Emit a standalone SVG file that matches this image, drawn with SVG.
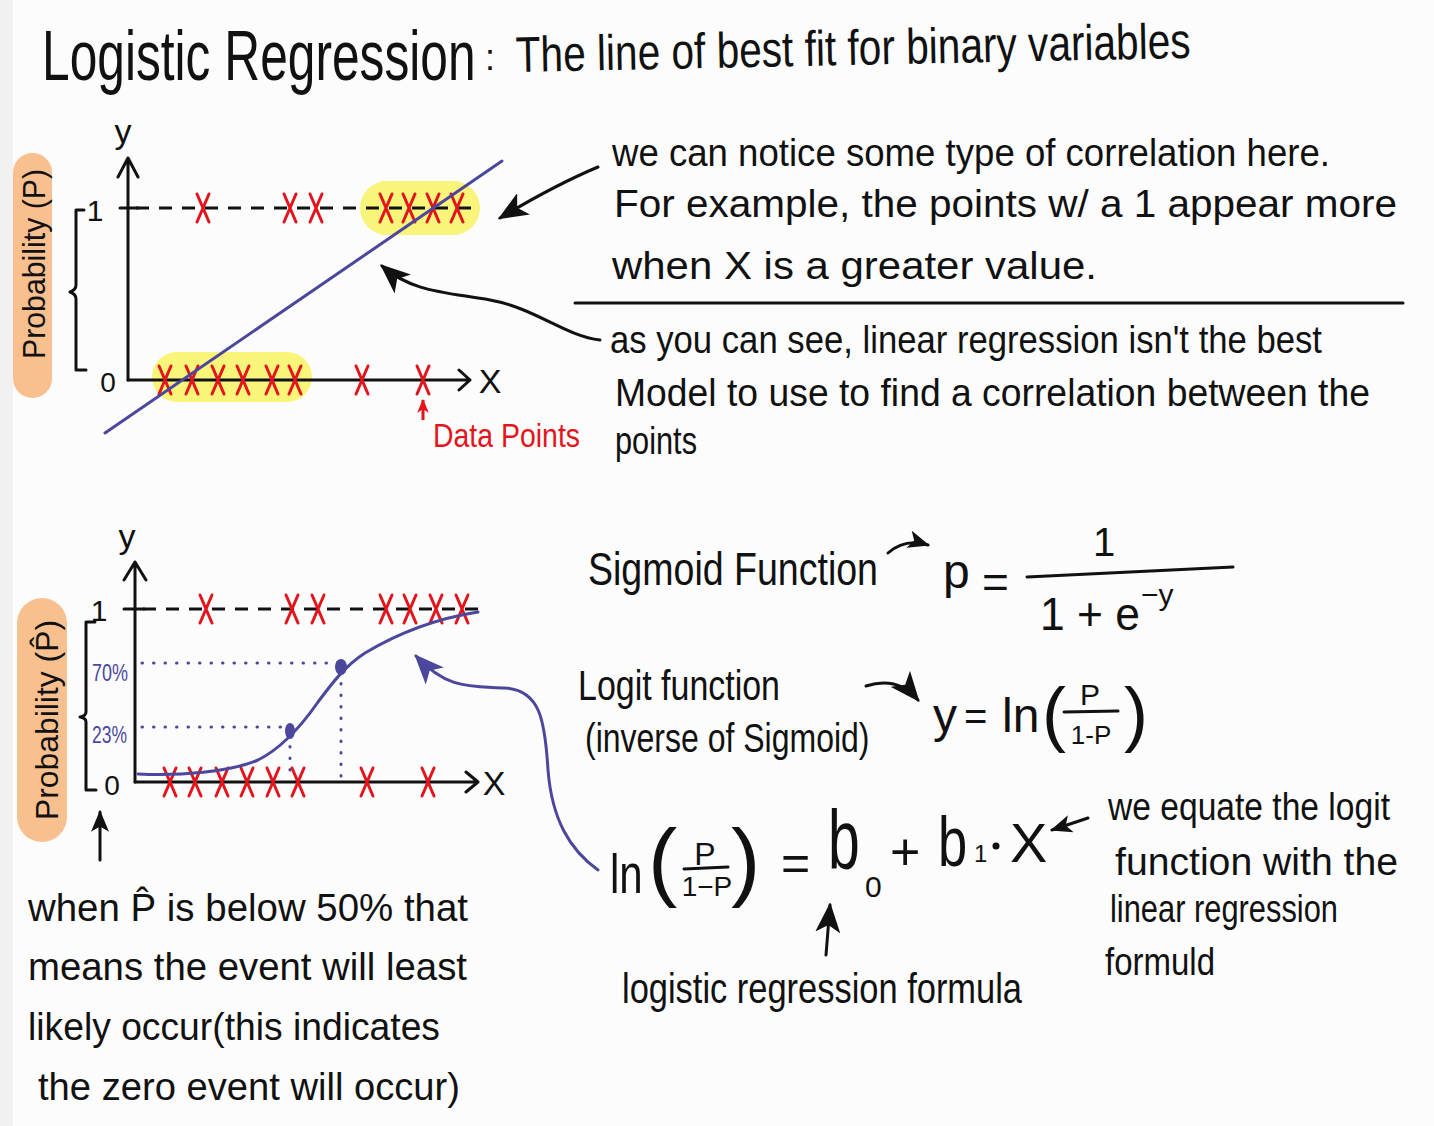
<svg xmlns="http://www.w3.org/2000/svg" width="1434" height="1126" viewBox="0 0 1434 1126">
<defs>
<style>
text{font-family:"Liberation Sans",Arial,sans-serif;fill:#111}
.b{font-size:38px}
.red{fill:#e3141b}
.blue{fill:#4b479c}
.ln{stroke:#111;stroke-width:3;fill:none;stroke-linecap:round;stroke-linejoin:round}
.bl{stroke:#4b479c;stroke-width:3;fill:none;stroke-linecap:round}
.dot{stroke:#4b479c;stroke-width:3;fill:none;stroke-linecap:round;stroke-dasharray:0.5 11}
.dash{stroke:#111;stroke-width:3;fill:none;stroke-dasharray:13 10}
.pill{fill:#f9c08f}
.hl{fill:#f8f57a}
</style>
<symbol id="x" viewBox="-8 -16 16 32" width="16" height="32" overflow="visible">
<path d="M-6,-14 Q0,0 6,14 M6,-14 Q0,0 -6,14" stroke="#e3141b" stroke-width="3" fill="none" stroke-linecap="round"/>
</symbol>
<marker id="hk" viewBox="0 0 12 10" refX="11" refY="5" markerWidth="30" markerHeight="25" markerUnits="userSpaceOnUse" orient="auto">
<path d="M0,0 L12,5 L0,10 L3,5 z" fill="#111"/>
</marker>
<marker id="hks" viewBox="0 0 12 10" refX="11" refY="5" markerWidth="22" markerHeight="18" markerUnits="userSpaceOnUse" orient="auto">
<path d="M0,0 L12,5 L0,10 L3,5 z" fill="#111"/>
</marker>
<marker id="hbl" viewBox="0 0 12 10" refX="11" refY="5" markerWidth="30" markerHeight="25" markerUnits="userSpaceOnUse" orient="auto">
<path d="M0,0 L12,5 L0,10 L3,5 z" fill="#4b479c"/>
</marker>
<marker id="hr" viewBox="0 0 12 10" refX="11" refY="5" markerWidth="14" markerHeight="12" markerUnits="userSpaceOnUse" orient="auto">
<path d="M0,0 L12,5 L0,10 L3,5 z" fill="#e3141b"/>
</marker>
</defs>
<rect width="1434" height="1126" fill="#fcfcfc"/>
<rect width="13" height="1126" fill="#f1f1f1"/>

<g id="title">
<text transform="translate(42,80) scale(0.71,1)" x="0" y="0" font-size="70">Logistic Regression</text>
<text x="485" y="70" font-size="36">:</text>
<text x="516" y="72" font-size="50" textLength="675" lengthAdjust="spacingAndGlyphs" transform="rotate(-1.2 516 72)">The line of best fit for binary variables</text>
</g>

<g id="chart-linear">
<rect class="pill" x="13" y="153" width="39" height="245" rx="19.5"/>
<text transform="translate(45,264) rotate(-90)" font-size="32" text-anchor="middle" textLength="190" lengthAdjust="spacingAndGlyphs">Probability (P)</text>
<path class="ln" d="M84,210 L76,210 L76,285 Q76,290 70,292 Q76,294 76,299 L76,370 L86,370" stroke-width="2.5"/>
<text x="95" y="221" font-size="30" text-anchor="middle">1</text>
<text x="108" y="392" font-size="28" text-anchor="middle">0</text>
<text x="123" y="143" font-size="34" text-anchor="middle">y</text>
<rect class="hl" x="360" y="181" width="120" height="54" rx="27"/>
<rect class="hl" x="152" y="352" width="160" height="50" rx="25"/>
<path class="dash" d="M136,208 L478,208"/>
<path class="ln" d="M120,208 L138,208"/>
<path class="ln" d="M128,380 L128,158 M118,177 L128,158 L138,177"/>
<path class="ln" d="M128,380 L470,380 M459,370 L470,380 L459,390"/>
<text x="490" y="393" font-size="34" text-anchor="middle">X</text>
<use href="#x" x="195" y="192"/><use href="#x" x="282" y="192"/><use href="#x" x="308" y="192"/>
<use href="#x" x="378" y="192"/><use href="#x" x="401" y="192"/><use href="#x" x="425" y="192"/><use href="#x" x="449" y="192"/>
<use href="#x" x="157" y="364"/><use href="#x" x="184" y="364"/><use href="#x" x="210" y="364"/><use href="#x" x="235" y="364"/>
<use href="#x" x="264" y="364"/><use href="#x" x="287" y="364"/><use href="#x" x="354" y="364"/><use href="#x" x="415" y="364"/>
<path class="bl" d="M105,433 L502,161" stroke-width="2.5"/>
<path d="M423,420 L423,400" stroke="#e3141b" stroke-width="3" fill="none" marker-end="url(#hr)"/>
<text class="red" x="433" y="447" font-size="34" textLength="147" lengthAdjust="spacingAndGlyphs">Data Points</text>
</g>

<g id="note-correlation">
<text class="b" x="612" y="166" textLength="718" lengthAdjust="spacingAndGlyphs">we can notice some type of correlation here.</text>
<text class="b" x="614" y="217" textLength="783" lengthAdjust="spacingAndGlyphs">For example, the points w/ a 1 appear more</text>
<text class="b" x="612" y="279" textLength="485" lengthAdjust="spacingAndGlyphs">when X is a greater value.</text>
</g>
<path class="ln" d="M575,303 L1403,303" stroke-width="2.5"/>
<g id="note-linear">
<text class="b" x="610" y="353" textLength="712" lengthAdjust="spacingAndGlyphs">as you can see, linear regression isn't the best</text>
<text class="b" x="615" y="406" textLength="755" lengthAdjust="spacingAndGlyphs">Model to use to find a correlation between the</text>
<text class="b" x="615" y="454" textLength="82" lengthAdjust="spacingAndGlyphs">points</text>
</g>

<g id="chart-sigmoid">
<rect class="pill" x="17" y="598" width="50" height="244" rx="25"/>
<text transform="translate(58,720) rotate(-90)" font-size="32" text-anchor="middle" textLength="200" lengthAdjust="spacingAndGlyphs">Probability (P̂)</text>
<path class="ln" d="M95,622 L86,622 L86,712 Q86,716 80,717 Q86,718 86,722 L86,790 L96,790" stroke-width="2.5"/>
<text x="99" y="621" font-size="30" text-anchor="middle">1</text>
<text class="blue" x="92" y="681" font-size="24" textLength="36" lengthAdjust="spacingAndGlyphs">70%</text>
<text class="blue" x="92" y="743" font-size="24" textLength="35" lengthAdjust="spacingAndGlyphs">23%</text>
<text x="112" y="795" font-size="28" text-anchor="middle">0</text>
<text x="127" y="548" font-size="34" text-anchor="middle">y</text>
<path class="dash" d="M143,609 L480,609"/>
<path class="ln" d="M124,609 L144,609"/>
<path class="ln" d="M135,782 L135,562 M124,580 L135,562 L146,580"/>
<path class="ln" d="M135,782 L478,782 M466,772 L478,782 L466,792"/>
<text x="494" y="795" font-size="34" text-anchor="middle">X</text>
<path class="dot" d="M142,663 L340,663 M142,727 L288,727 M290,735 L290,780 M341,672 L341,780"/>
<use href="#x" x="198" y="593"/><use href="#x" x="284" y="593"/><use href="#x" x="310" y="593"/>
<use href="#x" x="378" y="593"/><use href="#x" x="402" y="593"/><use href="#x" x="428" y="593"/><use href="#x" x="454" y="593"/>
<use href="#x" x="162" y="766"/><use href="#x" x="187" y="766"/><use href="#x" x="214" y="766"/><use href="#x" x="239" y="766"/>
<use href="#x" x="265" y="766"/><use href="#x" x="290" y="766"/><use href="#x" x="359" y="766"/><use href="#x" x="420" y="766"/>
<path class="bl" d="M138,774 C180,776 230,772 258,760 C280,749 300,728 318,702 C333,682 345,666 365,653 C400,632 440,618 478,612"/>
<ellipse cx="290" cy="731" rx="5" ry="8" fill="#4b479c"/>
<ellipse cx="341" cy="667" rx="6" ry="8" fill="#4b479c"/>
</g>

<g id="note-below50">
<text class="b" x="28" y="921" textLength="440" lengthAdjust="spacingAndGlyphs">when P̂ is below 50% that</text>
<text class="b" x="28" y="980" textLength="439" lengthAdjust="spacingAndGlyphs">means the event will least</text>
<text class="b" x="28" y="1040" textLength="412" lengthAdjust="spacingAndGlyphs">likely occur(this indicates</text>
<text class="b" x="38" y="1100" textLength="422" lengthAdjust="spacingAndGlyphs">the zero event will occur)</text>
</g>

<g id="sigmoid">
<text x="588" y="585" font-size="46" textLength="290" lengthAdjust="spacingAndGlyphs">Sigmoid Function</text>
<text x="943" y="588" font-size="48">p</text>
<text x="982" y="598" font-size="46">=</text>
<path class="ln" d="M1027,577 L1233,567"/>
<text x="1104" y="556" font-size="40" text-anchor="middle">1</text>
<text x="1040" y="630" font-size="46" textLength="100" lengthAdjust="spacingAndGlyphs">1 + e</text>
<text x="1141" y="605" font-size="30">−y</text>
</g>

<g id="logit">
<text x="578" y="700" font-size="42" textLength="202" lengthAdjust="spacingAndGlyphs">Logit function</text>
<text transform="translate(585,752) scale(0.8,1)" x="0" y="0" font-size="40">(inverse of Sigmoid)</text>
<text x="933" y="732" font-size="48">y</text>
<text x="964" y="730" font-size="40">=</text>
<text x="1002" y="732" font-size="48">ln</text>
<text x="1042" y="738" font-size="72">(</text>
<text x="1090" y="705" font-size="30" text-anchor="middle">P</text>
<path class="ln" d="M1064,712 L1118,711"/>
<text x="1091" y="744" font-size="26" text-anchor="middle">1-P</text>
<text x="1124" y="738" font-size="72">)</text>
</g>

<g id="logistic-formula">
<text transform="translate(610,893) scale(0.75,1)" x="0" y="0" font-size="56">ln</text>
<text x="648" y="890" font-size="88">(</text>
<text x="705" y="865" font-size="32" text-anchor="middle">P</text>
<path class="ln" d="M684,869 L728,867"/>
<text x="707" y="896" font-size="28" text-anchor="middle">1−P</text>
<text x="731" y="890" font-size="88">)</text>
<text x="781" y="880" font-size="50">=</text>
<text transform="translate(828,869) scale(0.68,1)" x="0" y="0" font-size="84">b</text>
<text x="865" y="897" font-size="30">0</text>
<text x="890" y="870" font-size="52">+</text>
<text transform="translate(938,866) scale(0.75,1)" x="0" y="0" font-size="70">b</text>
<text x="974" y="862" font-size="24">1</text>
<circle cx="996" cy="846" r="3.5" fill="#111"/>
<text x="1010" y="862" font-size="56">X</text>
</g>

<g id="note-equate">
<text class="b" x="1108" y="820" textLength="282" lengthAdjust="spacingAndGlyphs">we equate the logit</text>
<text class="b" x="1115" y="875" textLength="283" lengthAdjust="spacingAndGlyphs">function with the</text>
<text class="b" x="1110" y="922" textLength="228" lengthAdjust="spacingAndGlyphs">linear regression</text>
<text class="b" x="1105" y="975" textLength="110" lengthAdjust="spacingAndGlyphs">formuld</text>
</g>
<g id="label-formula">
<text x="622" y="1003" font-size="42" textLength="400" lengthAdjust="spacingAndGlyphs">logistic regression formula</text>
</g>

<g id="connectors">
<path class="ln" d="M598,167 Q555,185 500,218" marker-end="url(#hk)"/>
<path class="ln" d="M600,340 C565,336 535,308 490,300 C445,292 412,292 382,266" marker-end="url(#hk)"/>
<path class="ln" d="M888,553 Q905,538 928,545" marker-end="url(#hks)"/>
<path class="ln" d="M866,686 Q898,676 918,700" marker-end="url(#hk)"/>
<path class="ln" d="M1088,818 L1052,830" marker-end="url(#hks)"/>
<path class="ln" d="M826,955 L830,905" marker-end="url(#hk)"/>
<path class="ln" d="M100,860 L100,812" marker-end="url(#hks)"/>
<path class="bl" d="M598,870 C570,850 552,820 548,770 C545,720 540,690 505,688 C470,686 448,690 416,656" marker-end="url(#hbl)"/>
</g>
</svg>
